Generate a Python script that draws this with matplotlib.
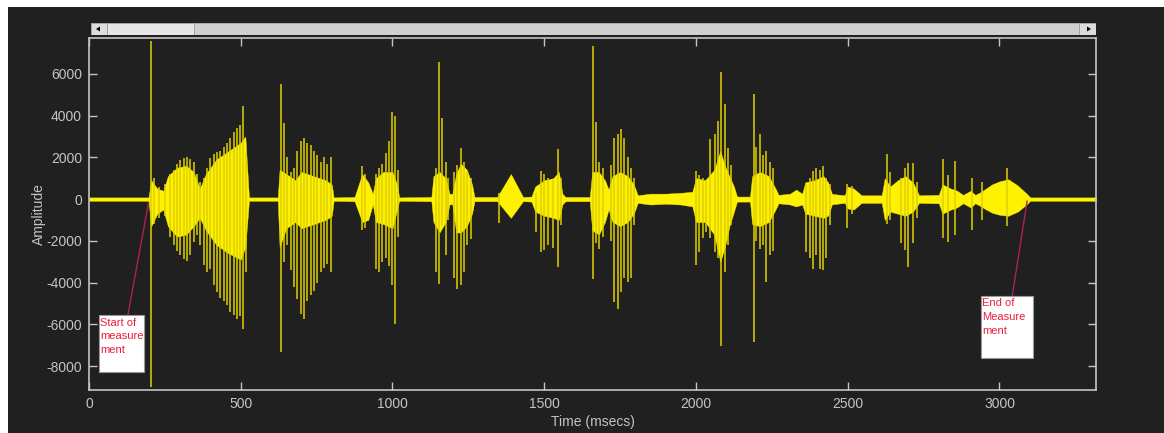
import matplotlib

matplotlib.use("Agg")
import matplotlib.pyplot as plt
from matplotlib.patches import Rectangle, Polygon

plt.rcParams["font.family"] = ["Liberation Sans", "DejaVu Sans"]
plt.rcParams["axes.unicode_minus"] = False

# dense body of the waveform: time (ms), upper and lower envelope
body_t = [0, 196, 205, 225, 245, 260, 290, 320, 345, 365, 385, 420, 460, 500, 515, 527,
          622, 628, 650, 680, 700, 740, 780, 800, 806,
          875, 900, 920, 935, 945, 970, 1000, 1015, 1022,
          1128, 1135, 1155, 1175, 1188, 1197, 1210, 1225, 1245, 1262, 1270,
          1345, 1390, 1430, 1458, 1470, 1500, 1530, 1548, 1560, 1570,
          1650, 1658, 1680, 1700, 1712, 1725, 1750, 1775, 1795, 1808,
          1850, 1900, 1950, 1988, 2000, 2030, 2060, 2080, 2095, 2110, 2125, 2135,
          2178, 2185, 2210, 2240, 2262, 2272, 2310, 2330, 2350, 2360, 2390, 2420, 2435, 2448,
          2490, 2500, 2520, 2545, 2612, 2622, 2640, 2665, 2690, 2715, 2735,
          2800, 2812, 2840, 2860, 2880, 2905, 2920, 2940, 2950, 2975, 3000, 3029, 3060, 3090, 3101, 3318]
body_hi = [80, 80, 900, 500, 400, 1100, 1500, 1600, 1300, 500, 1200, 1900, 2300, 2700, 3000, 80,
           80, 1400, 1200, 900, 1300, 1100, 900, 700, 80,
           100, 1200, 800, 250, 1000, 1300, 1300, 700, 80,
           100, 1100, 1300, 1000, 250, 250, 1200, 1700, 1400, 700, 100,
           100, 1200, 100, 120, 600, 900, 1000, 1300, 250, 100,
           100, 1300, 1300, 900, 450, 1100, 1300, 1100, 700, 180,
           260, 260, 300, 350, 1000, 900, 1400, 2300, 1600, 1100, 600, 120,
           120, 1100, 1300, 1100, 500, 200, 260, 450, 260, 800, 900, 1100, 800, 250,
           180, 600, 500, 180, 180, 1000, 600, 900, 1100, 800, 180,
           200, 700, 500, 400, 200, 400, 200, 350, 450, 700, 850, 950, 650, 250, 80, 80]
body_lo = [-80, -80, -1300, -700, -500, -1300, -1800, -1700, -1300, -900, -1500, -2200, -2600, -2900, -2300, -80,
           -80, -2300, -1400, -1100, -1400, -1200, -1000, -800, -80,
           -100, -1100, -1000, -250, -1100, -1200, -1400, -500, -80,
           -100, -1100, -1600, -1100, -250, -250, -1600, -1600, -1300, -700, -100,
           -100, -900, -100, -120, -600, -800, -900, -1000, -250, -100,
           -100, -1500, -1700, -1100, -500, -1100, -1300, -1100, -700, -180,
           -260, -220, -260, -350, -1100, -1100, -1700, -3000, -2300, -1300, -600, -120,
           -120, -1200, -1300, -1100, -500, -200, -260, -350, -260, -700, -800, -900, -800, -250,
           -180, -450, -500, -180, -180, -1000, -600, -700, -800, -600, -180,
           -200, -700, -500, -400, -200, -400, -200, -350, -450, -650, -750, -800, -600, -250, -80, -80]

# individual pitch spikes: time (ms), peak and trough
spike_t = [203, 213, 230, 250, 268, 279, 290, 301, 312, 323, 334, 345, 356, 367, 378, 389, 400,
           411, 422, 433, 444, 455, 466, 477, 488, 499, 507, 518,
           631, 642, 653, 664, 675, 686, 697, 708, 719, 730, 741, 752, 763, 774, 785, 796,
           898, 910, 945, 955, 966, 977, 988, 999, 1008, 1017,
           1142, 1153, 1164, 1175, 1183, 1203, 1214, 1225, 1236, 1247, 1258,
           1351, 1473, 1489, 1500, 1511, 1528, 1544, 1555,
           1659, 1670, 1682, 1692, 1720, 1731, 1742, 1753, 1764, 1775, 1786, 1797,
           2000, 2011, 2022, 2033, 2046, 2061, 2072, 2083, 2094, 2105, 2116,
           2190, 2199, 2210, 2221, 2232, 2243, 2254,
           2364, 2375, 2386, 2397, 2408, 2419, 2430, 2441, 2496, 2515,
           2630, 2640, 2677, 2690, 2700, 2716, 2728,
           2815, 2831, 2853, 2908, 2941, 3025]
spike_hi = [7600, 1000, 600, 700, 1200, 1400, 1700, 1850, 1950, 2000, 1900, 1800, 1200, 800, 1000, 1500, 1950,
            2150, 2250, 2300, 2500, 2700, 2950, 3200, 3400, 3550, 4450, 2300,
            5510, 3660, 2000, 1300, 1500, 2300, 2800, 2950, 2700, 2600, 2300, 2100, 1800, 2000, 1700, 2000,
            1600, 1200, 1200, 1500, 1700, 2200, 2800, 4150, 4000, 1400,
            1500, 6560, 3900, 1800, 1000, 1300, 1650, 2460, 1800, 1300, 1000,
            300, 300, 1330, 1200, 1000, 900, 2380, 1000,
            7360, 3700, 1800, 1500, 1650, 2940, 3100, 3340, 2940, 2000, 1500, 1000,
            1330, 1170, 1000, 850, 2860, 3100, 3740, 6070, 4550, 2460, 1650,
            5030, 2500, 3100, 2100, 2300, 1800, 1500,
            700, 1000, 1330, 1490, 1400, 1570, 1000, 700, 700, 650,
            2140, 1300, 1000, 1500, 1740, 1740, 800,
            1900, 1170, 1820, 1000, 800, 1500]
spike_lo = [-9000, -1200, -900, -800, -1800, -2200, -2500, -2700, -2850, -2950, -2700, -2050, -1700, -2200, -3150, -3500, -3350,
            -4100, -4450, -4750, -4900, -5100, -5400, -5550, -5750, -5600, -6250, -3500,
            -7340, -3000, -2200, -3400, -4200, -4800, -5500, -5750, -4900, -4600, -4400, -4000, -3500, -3300, -3100, -3500,
            -1500, -1400, -3330, -3500, -3000, -2800, -3200, -4100, -5980, -1800,
            -3490, -4050, -1300, -2680, -1000, -3800, -4290, -4100, -3500, -2200, -1900,
            -1150, -1560, -2520, -2440, -2200, -2360, -3250, -1240,
            -3810, -2100, -2400, -1800, -2000, -4930, -5250, -4450, -3800, -3970, -3800, -1240,
            -3170, -2520, -1880, -1560, -1880, -2520, -2840, -7020, -3490, -2200, -1240,
            -6860, -2000, -2400, -2200, -3970, -2700, -2500,
            -2520, -2840, -3330, -2680, -3330, -3400, -2840, -1240, -1400, -700,
            -1200, -1000, -2120, -2440, -3250, -2120, -900,
            -1880, -2040, -1720, -1480, -1000, -1300]

x_ticks = [0, 500, 1000, 1500, 2000, 2500, 3000]
y_ticks = [-8000, -6000, -4000, -2000, 0, 2000, 4000, 6000]

BG = "#202020"
FG = "#c4c4c4"
YEL = "#fff200"
RED = "#ee1c3c"

W, H = 1164, 433
fig = plt.figure(figsize=(W / 100, H / 100), dpi=100, facecolor="white")
fig.patches.append(Rectangle((8 / W, 0), 1 - 8 / W, 1 - 7 / H, transform=fig.transFigure,
                             facecolor=BG, edgecolor="none", zorder=-10))

ax = fig.add_axes([89 / W, 1 - 390 / H, (1096 - 89) / W, (390 - 38) / H])
ax.set_facecolor(BG)
ax.fill_between(body_t, body_hi, body_lo, color=YEL, linewidth=0.3, edgecolor=YEL, zorder=2)
ax.vlines(spike_t, spike_lo, spike_hi, color="#e0d000", linewidth=1.1, zorder=3)

ax.set_xlim(0, 3318)
ax.set_ylim(-9150, 7720)
ax.set_xticks(x_ticks)
ax.set_yticks(y_ticks)
ax.tick_params(direction="in", length=6, width=1, colors=FG, labelsize=10,
               top=True, right=True, pad=5)
for s in ax.spines.values():
    s.set_color(FG)
    s.set_linewidth(1.2)
ax.set_xlabel("Time (msecs)", color=FG, fontsize=10, labelpad=3)
ax.set_ylabel("Amplitude", color=FG, fontsize=10, labelpad=0)

# measurement markers
ax.plot([128, 196], [-5557, -200], color="#b02050", linewidth=1, zorder=4)
box1 = Rectangle((33, -8287), 148, 2730, facecolor="white", edgecolor="#999999",
                 linewidth=0.8, zorder=5)
ax.add_patch(box1)
t1 = ax.text(36, -5680, "Start of\nmeasure\nment", color=RED, fontsize=8, va="top", ha="left",
             linespacing=1.45, zorder=6)
t1.set_clip_path(box1)
ax.plot([3042, 3091], [-4647, -100], color="#b02050", linewidth=1, zorder=4)
box2 = Rectangle((2940, -7617), 171, 2970, facecolor="white", edgecolor="#999999",
                 linewidth=0.8, zorder=5)
ax.add_patch(box2)
t2 = ax.text(2943, -4760, "End of\nMeasure\nment", color=RED, fontsize=8, va="top", ha="left",
             linespacing=1.45, zorder=6)
t2.set_clip_path(box2)

# scrollbar above the plot
sb = fig.add_axes([91 / W, 1 - 35 / H, (1096 - 91) / W, 12 / H])
sb.set_xlim(0, 1005)
sb.set_ylim(0, 12)
sb.axis("off")
sb.add_patch(Rectangle((0, 0), 1005, 12, facecolor="#d0d0d2", edgecolor="#a8a8a8", linewidth=0.8))
sb.add_patch(Rectangle((16, 0.5), 87, 11, facecolor="#e6e6e8", edgecolor="#9a9a9a", linewidth=0.6))
sb.add_patch(Rectangle((0, 0), 16, 12, facecolor="#dcdcdc", edgecolor="#9a9a9a", linewidth=0.6))
sb.add_patch(Rectangle((988, 0), 17, 12, facecolor="#dcdcdc", edgecolor="#9a9a9a", linewidth=0.6))
sb.add_patch(Polygon([[5, 6], [9, 3.5], [9, 8.5]], closed=True, facecolor="black"))
sb.add_patch(Polygon([[1000, 6], [996, 3.5], [996, 8.5]], closed=True, facecolor="black"))

fig.savefig("out.png", dpi=100, facecolor=fig.get_facecolor())
